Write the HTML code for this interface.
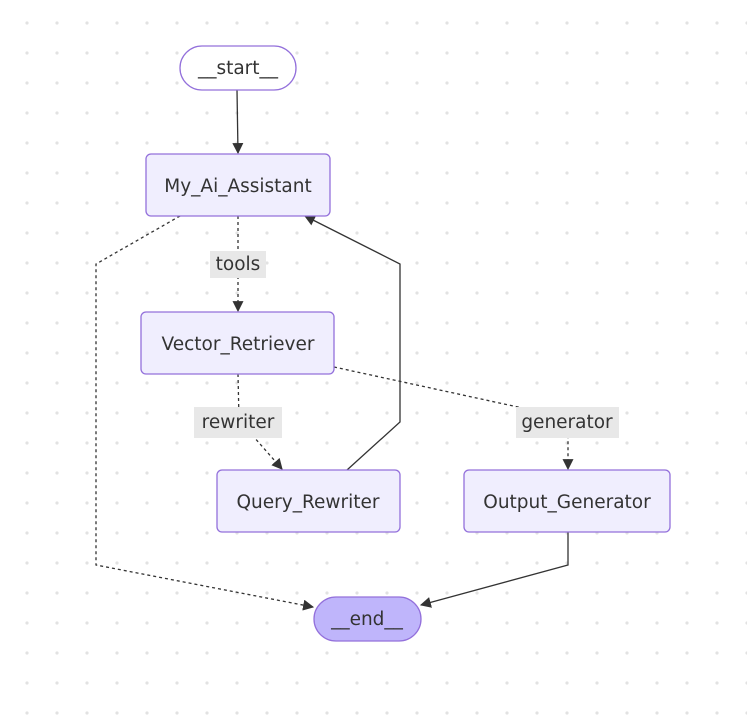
<!DOCTYPE html>
<html><head><meta charset="utf-8"><style>
html,body{margin:0;padding:0;background:#fff}
svg{display:block}
text{font-family:"DejaVu Sans","Liberation Sans",sans-serif;font-size:18.5px;fill:#333}
</style></head><body>
<svg width="747" height="725" viewBox="0 0 747 725" xmlns="http://www.w3.org/2000/svg">
<defs>
<pattern id="dots" x="0" y="0" width="30" height="30" patternUnits="userSpaceOnUse">
<circle cx="27" cy="23" r="1.6" fill="#e2e2e2"/>
</pattern>
<marker id="ah2" viewBox="0 0 10 10" refX="9" refY="5" markerWidth="11" markerHeight="11" markerUnits="userSpaceOnUse" orient="auto">
<path d="M0,0 L10,5 L0,10 z" fill="#333"/>
</marker>
</defs>
<rect width="747" height="725" fill="url(#dots)"/>

<g fill="none" stroke="#333" stroke-width="1.3">
<path d="M237,90 L238,153" marker-end="url(#ah2)"/>
<path d="M238,216 L238,311" stroke-dasharray="3,3" marker-end="url(#ah2)"/>
<path d="M180,216 L96,264 L96,565 L313,607" stroke-dasharray="3,3" marker-end="url(#ah2)"/>
<path d="M238,374 L239,420 L282,469" stroke-dasharray="3,3" marker-end="url(#ah2)"/>
<path d="M334,367 L550,414 Q568,420 568,430 L568,469" stroke-dasharray="3,3" marker-end="url(#ah2)"/>
<path d="M347,470 L400,422 L400,264 L305,216" marker-end="url(#ah2)"/>
<path d="M568,532 L568,565 L421,605" marker-end="url(#ah2)"/>
</g>

<g stroke="#9370db" stroke-width="1.3" fill="#ececff">
<rect x="180" y="46" width="116" height="44" rx="22" fill="#fff"/>
<rect x="146" y="154" width="184" height="62" rx="5" fill="#f0eefe"/>
<rect x="141" y="312" width="193" height="62" rx="5" fill="#f0eefe"/>
<rect x="217" y="470" width="183" height="62" rx="5" fill="#f0eefe"/>
<rect x="464" y="470" width="206" height="62" rx="5" fill="#f0eefe"/>
<rect x="314" y="597" width="107" height="44" rx="22" fill="#bfb5fb"/>
</g>

<g fill="#e8e8e8">
<rect x="210" y="251" width="56" height="27"/>
<rect x="194" y="407" width="88" height="31"/>
<rect x="516" y="407" width="103" height="31"/>
</g>

<g text-anchor="middle">
<text x="238" y="74">__start__</text>
<text x="238" y="192">My_Ai_Assistant</text>
<text x="238" y="350">Vector_Retriever</text>
<text x="308" y="508">Query_Rewriter</text>
<text x="567" y="508">Output_Generator</text>
<text x="367" y="625">__end__</text>
<text x="238" y="270">tools</text>
<text x="238" y="428">rewriter</text>
<text x="567" y="428">generator</text>
</g>
</svg>
</body></html>
